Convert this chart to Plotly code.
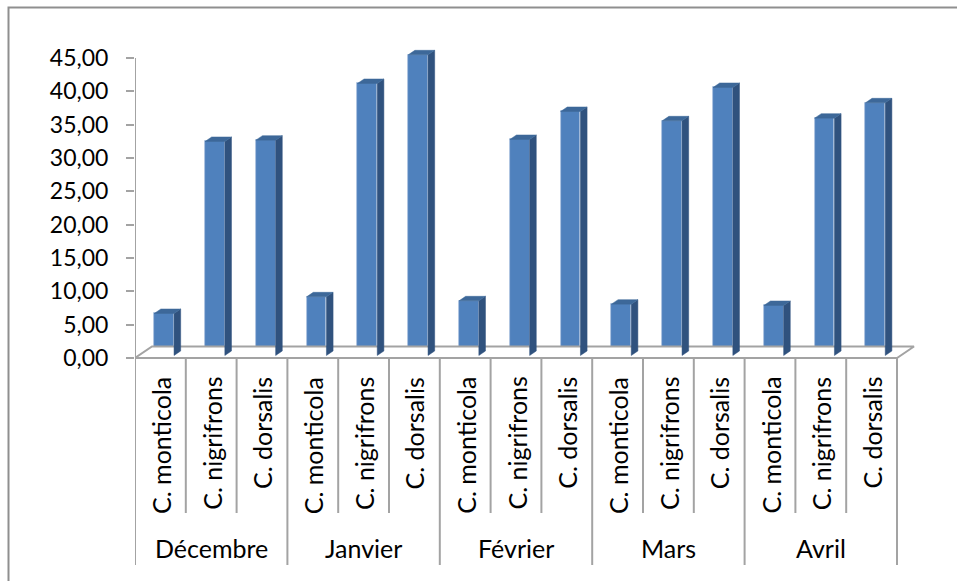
import plotly.graph_objects as go

# Monthly values per species (%)
months = ["Décembre", "Janvier", "Février", "Mars", "Avril"]
species = ["C. monticola", "C. nigrifrons", "C. dorsalis"]
values = [
    6.3, 32.1, 32.3,   # Décembre
    8.8, 40.8, 45.1,   # Janvier
    8.2, 32.4, 36.6,   # Février
    7.7, 35.2, 40.2,   # Mars
    7.5, 35.6, 37.9,   # Avril
]
y_ticks = [0, 5, 10, 15, 20, 25, 30, 35, 40, 45]

# --- pseudo-3D geometry (data units) ---
W_PX, H_PX = 957, 581
L_PX, T_PX = 135, 45
PX_X = 50.8          # pixels per category
PX_Y = 300 / 45      # pixels per value unit
DEPTH_X = 17 / PX_X  # floor depth, horizontal component
DEPTH_Y = 11.5 / PX_Y
BAR_D0, BAR_D1 = 0.22, 0.61   # bar position inside the floor depth
BAR_W = 0.39

n = len(values)
x_max = (W_PX - L_PX) / PX_X
y_max = (358 - T_PX) / PX_Y
y_min = -(H_PX - 358) / PX_Y

front_dx = BAR_D0 * DEPTH_X
base = BAR_D0 * DEPTH_Y
bdx = (BAR_D1 - BAR_D0) * DEPTH_X
bdy = (BAR_D1 - BAR_D0) * DEPTH_Y
centers = [i + 0.5 + front_dx for i in range(n)]

AX_COL = "#A3A3A3"
FRONT = "#4F81BD"
TOP = "#3D6899"
SIDE = "#30527E"

fig = go.Figure()

# floor
fx = [0, n, n + DEPTH_X, DEPTH_X, 0]
fy = [0, 0, DEPTH_Y, DEPTH_Y, 0]
fig.add_trace(go.Scatter(x=fx, y=fy, mode="lines", fill="toself",
                         fillcolor="white", line=dict(color=AX_COL, width=2),
                         hoverinfo="skip", showlegend=False))

# side and top faces of each column
sx, sy, tx, ty = [], [], [], []
for c, v in zip(centers, values):
    x0, x1 = c - BAR_W / 2, c + BAR_W / 2
    sx += [x1, x1 + bdx, x1 + bdx, x1, x1, None]
    sy += [base, base + bdy, base + v + bdy, base + v, base, None]
    tx += [x0, x1, x1 + bdx, x0 + bdx, x0, None]
    ty += [base + v, base + v, base + v + bdy, base + v + bdy, base + v, None]

fig.add_trace(go.Scatter(x=sx, y=sy, mode="lines", fill="toself", fillcolor=SIDE,
                         line=dict(color=SIDE, width=0.5), hoverinfo="skip",
                         showlegend=False))
fig.add_trace(go.Scatter(x=tx, y=ty, mode="lines", fill="toself", fillcolor=TOP,
                         line=dict(color=TOP, width=0.5), hoverinfo="skip",
                         showlegend=False))

# front faces
fig.add_trace(go.Bar(x=centers, y=values, base=base, width=BAR_W,
                     marker=dict(color=FRONT, line=dict(color="#A9C0DE", width=0.8)),
                     showlegend=False))

# value axis line
fig.add_shape(type="line", x0=0, x1=0, y0=0, y1=45, xref="x", yref="y",
              line=dict(color=AX_COL, width=2))

# category divider lines
inner_bottom = -(513 - 358) / PX_Y
group_bottom = -(565 - 358) / PX_Y
for i in range(n + 1):
    yb = group_bottom if i % 3 == 0 else inner_bottom
    fig.add_shape(type="line", x0=i, x1=i, y0=0, y1=yb, xref="x", yref="y",
                  line=dict(color=AX_COL, width=2))

# category labels
font = "Lato, 'Open Sans', sans-serif"
for i in range(n):
    fig.add_annotation(x=i + 0.5, y=-(375 - 358) / PX_Y, xref="x", yref="y",
                       text=species[i % 3], textangle=-90, showarrow=False,
                       yanchor="top", xanchor="center",
                       font=dict(family=font, size=25, color="black"))
for g, m in enumerate(months):
    fig.add_annotation(x=3 * g + 1.5, y=-(548 - 358) / PX_Y, xref="x", yref="y",
                       text=m, showarrow=False, yanchor="middle",
                       font=dict(family=font, size=25, color="black"))

# chart border
bx = (8.5 - L_PX) / (W_PX - L_PX)
by = (H_PX - 7.5) / (H_PX - T_PX)
fig.add_shape(type="path", xref="paper", yref="paper",
              path=f"M {bx} -0.2 L {bx} {by} L 1.2 {by}",
              line=dict(color="#8F8F8F", width=2))

fig.update_layout(
    width=W_PX, height=H_PX,
    margin=dict(l=L_PX, r=0, t=T_PX, b=0),
    paper_bgcolor="white", plot_bgcolor="white",
    separators=", ",
    bargap=0,
    xaxis=dict(range=[0, x_max], showgrid=False, zeroline=False,
               showticklabels=False, ticks="", showline=False),
    yaxis=dict(range=[y_min, y_max], showgrid=False, zeroline=False,
               showline=False, tickvals=y_ticks, tickformat=".2f",
               ticks="outside", ticklen=8, tickwidth=2, tickcolor=AX_COL,
               ticklabelstandoff=13,
               tickfont=dict(family=font, size=23, color="black")),
)

fig.write_html("out.html")
